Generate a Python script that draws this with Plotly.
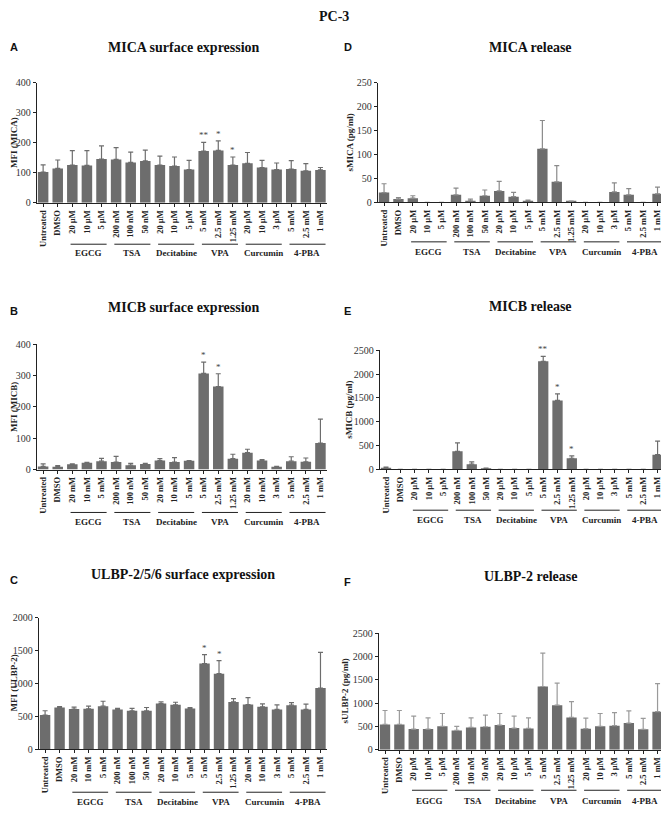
import plotly.graph_objects as go

# categories / tick labels
labels_um = ["Untreated", "DMSO", "20 µM", "10 µM", "5 µM", "200 nM", "100 nM", "50 nM",
             "20 µM", "10 µM", "5 µM", "5 mM", "2.5 mM", "1.25 mM", "20 µM", "10 µM", "3 µM",
             "5 mM", "2.5 mM", "1 mM"]
labels_mm = ["Untreated", "DMSO", "20 mM", "10 mM", "5 mM", "200 nM", "100 nM", "50 nM",
             "20 mM", "10 mM", "5 mM", "5 mM", "2.5 mM", "1.25 mM", "20 mM", "10 mM", "3 mM",
             "5 mM", "2.5 mM", "1 mM"]
groups = [("EGCG", 2, 4), ("TSA", 5, 7), ("Decitabine", 8, 10), ("VPA", 11, 13),
          ("Curcumin", 14, 16), ("4-PBA", 17, 19)]

# A: MICA surface expression (MFI)
mica_mfi = [103, 115, 126, 125, 146, 145, 135, 140, 126, 123, 111, 173, 175, 126, 132, 118, 111, 113, 107, 110]
mica_mfi_sd = [24, 28, 48, 49, 44, 39, 34, 36, 30, 30, 31, 29, 32, 27, 36, 24, 22, 28, 24, 8]
mica_mfi_sig = {11: "**", 12: "*", 13: "*"}

# B: MICB surface expression (MFI)
micb_mfi = [10, 9, 17, 22, 27, 24, 14, 18, 29, 24, 28, 307, 265, 35, 54, 29, 9, 27, 25, 85]
micb_mfi_sd = [8, 4, 1, 1, 9, 18, 6, 2, 6, 14, 1, 36, 41, 14, 11, 3, 1, 14, 12, 76]
micb_mfi_sig = {11: "*", 12: "*"}

# C: ULBP-2/5/6 surface expression (MFI)
ulbp_mfi = [520, 635, 610, 615, 655, 605, 585, 585, 695, 675, 620, 1305, 1150, 720, 680, 645, 605, 670, 605, 930]
ulbp_mfi_sd = [65, 15, 30, 40, 75, 15, 35, 50, 25, 40, 15, 135, 200, 50, 105, 45, 70, 40, 80, 545]
ulbp_mfi_sig = {11: "*", 12: "*"}

# D: MICA release (pg/ml)
mica_rel = [20.5, 7, 9, 0, 0, 16, 3.5, 14, 24, 12, 3.5, 112, 43, 2, 0, 0, 22, 16, 0, 18]
mica_rel_sd = [18.5, 3, 5, 0, 0, 14, 3.5, 12, 20, 9, 1.5, 59, 34, 1, 0, 0, 19, 13, 0, 14]

# E: MICB release (pg/ml)
micb_rel = [34, 0, 0, 0, 0, 380, 110, 20, 0, 0, 0, 2266, 1446, 234, 0, 0, 0, 0, 0, 310]
micb_rel_sd = [14, 0, 0, 0, 0, 178, 48, 7, 0, 0, 0, 103, 138, 48, 0, 0, 0, 0, 0, 282]
micb_rel_sig = {11: "**", 12: "*", 13: "*"}

# F: ULBP-2 release (pg/ml)
ulbp_rel = [546, 546, 447, 447, 504, 418, 482, 496, 532, 468, 461, 1359, 958, 695, 454, 504, 518, 574, 440, 820]
ulbp_rel_sd = [298, 298, 276, 241, 276, 86, 206, 249, 248, 255, 227, 718, 472, 340, 227, 276, 283, 263, 234, 602]

# page body has an 8px margin, so the figure is drawn 8px in from the corner
OFF = 8
W, H = 669 - OFF, 813 - OFF
SERIF = "Liberation Serif, Times New Roman, serif"
BAR = "#6d6d6d"


def px(x):
    return (x - OFF) / W


def py(y):
    return 1 - (y - OFF) / H


panels = [
    dict(letter="A", title="MICA surface expression", ytitle="MFI (MICA)", y=mica_mfi, sd=mica_mfi_sd,
         sig=mica_mfi_sig, lab=labels_um, ymax=400, dtick=100, xd=(37, 327), yd=(78, 199.7),
         lp=(8, 42), tp=(184, 42), ytx=14, gl=241.7, gt=251, ec=BAR),
    dict(letter="B", title="MICB surface expression", ytitle="MFI (MICB)", y=micb_mfi, sd=micb_mfi_sd,
         sig=micb_mfi_sig, lab=labels_mm, ymax=400, dtick=100, xd=(37, 327), yd=(343.3, 470.5),
         lp=(8, 309), tp=(184, 306), ytx=14, gl=514, gt=524, ec=BAR),
    dict(letter="C", title="ULBP-2/5/6 surface expression", ytitle="MFI (ULBP-2)", y=ulbp_mfi, sd=ulbp_mfi_sd,
         sig=ulbp_mfi_sig, lab=labels_mm, ymax=2000, dtick=500, xd=(39, 327), yd=(621, 754.3),
         lp=(8, 583), tp=(183, 577), ytx=14, gl=798, gt=807.5, ec=BAR),
    dict(letter="D", title="MICA release", ytitle="sMICA (pg/ml)", y=mica_rel, sd=mica_rel_sd,
         sig={}, lab=labels_um, ymax=250, dtick=50, xd=(378, 664), yd=(77.7, 199.3),
         lp=(342, 42), tp=(530, 42), ytx=350, gl=239.3, gt=250, ec="#8a8a8a"),
    dict(letter="E", title="MICB release", ytitle="sMICB (pg/ml)", y=micb_rel, sd=micb_rel_sd,
         sig=micb_rel_sig, lab=labels_um, ymax=2500, dtick=500, xd=(380, 664), yd=(349.3, 470.3),
         lp=(342, 309), tp=(530, 305), ytx=349, gl=511.7, gt=521.7, ec=BAR),
    dict(letter="F", title="ULBP-2 release", ytitle="sULBP-2 (pg/ml)", y=ulbp_rel, sd=ulbp_rel_sd,
         sig={}, lab=labels_um, ymax=2500, dtick=500, xd=(379, 664), yd=(636.7, 755),
         lp=(342, 585), tp=(530, 579), ytx=345, gl=796, gt=806.5, ec="#9a9a9a"),
]

fig = go.Figure()
annotations = [dict(text="<b>PC-3</b>", x=px(334), y=py(11), xref="paper", yref="paper",
                    xanchor="center", yanchor="middle", showarrow=False,
                    font=dict(family=SERIF, size=14, color="#111"))]
shapes = []
layout_axes = {}

for i, p in enumerate(panels):
    n = "" if i == 0 else str(i + 1)
    xa, ya = "x" + n, "y" + n
    err = [s if s > 0 else None for s in p["sd"]]
    fig.add_trace(go.Bar(
        x=list(range(20)), y=p["y"], xaxis=xa, yaxis=ya, width=0.72,
        marker=dict(color=BAR, line=dict(width=0)),
        error_y=dict(type="data", symmetric=False, array=err, arrayminus=[0] * 20,
                     color=p["ec"], thickness=1.2, width=2.5),
        showlegend=False, hoverinfo="y",
    ))
    layout_axes["xaxis" + n] = dict(
        domain=[px(p["xd"][0]), px(p["xd"][1])], anchor=ya, range=[-0.42, 19.45],
        tickmode="array", tickvals=list(range(20)), ticktext=p["lab"], tickangle=-90,
        tickfont=dict(family=SERIF, size=8.5, color="#222", weight="bold"),
        ticks="outside", ticklen=3, tickcolor="#222", showline=True, linecolor="#222",
        linewidth=1, showgrid=False, zeroline=False, fixedrange=True,
        ticklabeloverflow="allow",
    )
    layout_axes["yaxis" + n] = dict(
        domain=[py(p["yd"][1]), py(p["yd"][0])], anchor=xa, range=[0, p["ymax"]],
        dtick=p["dtick"], tick0=0, ticks="outside", ticklen=3, tickcolor="#222",
        tickfont=dict(family=SERIF, size=10, color="#333"), showline=True, linecolor="#222",
        linewidth=1.3, showgrid=False, zeroline=False, fixedrange=True,
    )
    # panel letter, title, y-axis title
    annotations.append(dict(text="<b>" + p["letter"] + "</b>", x=px(p["lp"][0]), y=py(p["lp"][1]),
                            xref="paper", yref="paper", showarrow=False, xanchor="left", yanchor="middle",
                            font=dict(family="Liberation Sans, Arial, sans-serif", size=11, color="#111")))
    annotations.append(dict(text="<b>" + p["title"] + "</b>", x=px(p["tp"][0]), y=py(p["tp"][1]),
                            xref="paper", yref="paper", showarrow=False, xanchor="center", yanchor="middle",
                            font=dict(family=SERIF, size=14, color="#111")))
    ymid = (p["yd"][0] + p["yd"][1]) / 2
    annotations.append(dict(text="<b>" + p["ytitle"] + "</b>", x=px(p["ytx"]), y=py(ymid),
                            xref="paper", yref="paper", showarrow=False, textangle=-90,
                            xanchor="center", yanchor="middle",
                            font=dict(family=SERIF, size=9, color="#222")))
    # treatment group lines and names
    for name, a, b in groups:
        shapes.append(dict(type="line", xref=xa, yref="paper", x0=a - 0.12, x1=b + 0.35,
                           y0=py(p["gl"]), y1=py(p["gl"]), line=dict(color="#222", width=1)))
        annotations.append(dict(text="<b>" + name + "</b>", x=(a + b) / 2 + 0.11, y=py(p["gt"]),
                                xref=xa, yref="paper", showarrow=False, xanchor="center", yanchor="middle",
                                font=dict(family=SERIF, size=9, color="#222")))
    # significance marks
    for k, s in p["sig"].items():
        annotations.append(dict(text=s, x=k, y=p["y"][k] + p["sd"][k], xref=xa, yref=ya,
                                showarrow=False, xanchor="center", yanchor="bottom",
                                font=dict(family=SERIF, size=9, color="#444")))

fig.update_layout(
    width=W, height=H, margin=dict(l=0, r=0, t=0, b=0),
    paper_bgcolor="white", plot_bgcolor="white",
    annotations=annotations, shapes=shapes, bargap=0.28,
    **layout_axes,
)
fig.write_html("out.html", config={"displayModeBar": False})
